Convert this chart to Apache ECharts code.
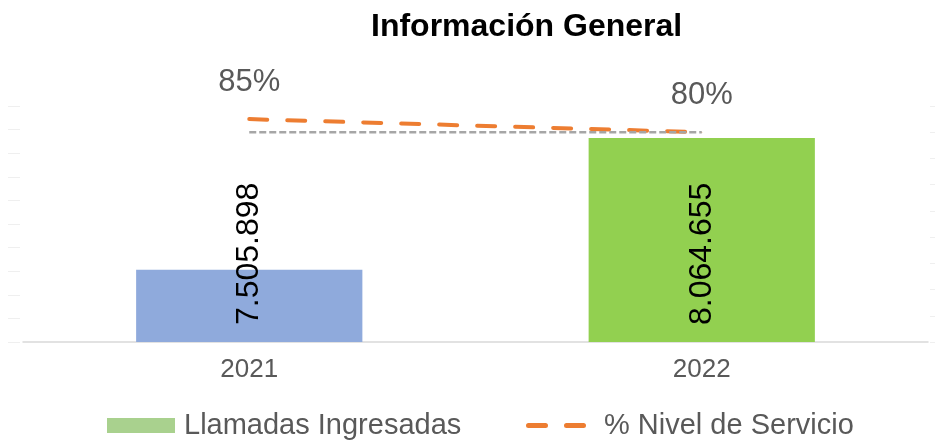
<!DOCTYPE html>
<html>
<head>
<meta charset="utf-8">
<script src="https://cdn.jsdelivr.net/npm/echarts@6/dist/echarts.min.js"></script>
<style>
  html, body { margin: 0; padding: 0; background: #fff; }
  #chart { width: 940px; height: 445px; }
</style>
</head>
<body>
<div id="chart"></div>
<script>
const years = ["2021", "2022"];
const llamadas = [7505898, 8064655];
const barColors = ["#8FAADC", "#92D050"];
const nivelServicio = [85, 80];
const meta = [80, 80];

const FONT = "'Liberation Sans', Arial, sans-serif";

function miles(v) {
  return String(v).replace(/\B(?=(\d{3})+(?!\d))/g, ".");
}

const chart = echarts.init(document.getElementById("chart"), null, { renderer: "canvas" });

chart.setOption({
  animation: false,
  textStyle: { fontFamily: FONT },
  title: {
    text: "Información General",
    left: 366,
    top: 6,
    textStyle: { fontSize: 32, fontWeight: "bold", color: "#000", fontFamily: FONT },
  },
  legend: [
    {
      data: [{ name: "Llamadas Ingresadas", icon: "rect" }],
      left: 102,
      top: 406,
      itemWidth: 68,
      itemHeight: 15,
      textStyle: { fontSize: 29, color: "#595959", fontFamily: FONT, padding: [0, 0, 0, 4] },
    },
    {
      data: [
        {
          name: "% Nivel de Servicio",
          icon: "path://M2.5,0h17a2.5,2.5 0 0 1 0,5h-17a2.5,2.5 0 0 1 0,-5zM40.5,0h17a2.5,2.5 0 0 1 0,5h-17a2.5,2.5 0 0 1 0,-5z",
          itemStyle: { color: "#ED7D31", borderWidth: 0 },
        },
      ],
      left: 521,
      top: 406,
      itemWidth: 60,
      itemHeight: 5,
      textStyle: { fontSize: 29, color: "#595959", fontFamily: FONT, padding: [0, 0, 0, 13] },
    },
  ],
  grid: { left: 23, right: 12, top: 106, bottom: 103, containLabel: false },
  xAxis: {
    type: "category",
    data: years,
    axisLine: { lineStyle: { color: "#d9d9d9", width: 1.5 } },
    axisTick: { show: false },
    axisLabel: { fontSize: 26, color: "#595959", margin: 15, fontFamily: FONT },
  },
  yAxis: [
    {
      type: "value",
      min: 7200000,
      max: 8200000,
      interval: 100000,
      offset: 3,
      axisLabel: { show: false },
      axisLine: { show: false },
      axisTick: { show: true, length: 12, lineStyle: { color: "#efefef" } },
      splitLine: { show: false },
    },
    {
      type: "value",
      min: 0,
      max: 90,
      interval: 10,
      offset: 2,
      position: "right",
      axisLabel: { show: false },
      axisLine: { show: false },
      axisTick: { show: true, length: 5, lineStyle: { color: "#efefef" } },
      splitLine: { show: false },
    },
  ],
  series: [
    {
      name: "Llamadas Ingresadas",
      type: "bar",
      barWidth: "50%",
      itemStyle: { color: "#A9D18E" },
      data: llamadas.map((v, i) => ({ value: v, itemStyle: { color: barColors[i] } })),
      label: {
        show: true,
        position: "insideBottom",
        rotate: 90,
        align: "left",
        verticalAlign: "middle",
        distance: 17,
        fontSize: 32,
        color: "#000",
        fontFamily: FONT,
        formatter: (p) => miles(p.value),
      },
    },
    {
      name: "% Nivel de Servicio",
      type: "line",
      yAxisIndex: 1,
      data: nivelServicio,
      showSymbol: true,
      symbol: "circle",
      symbolSize: 1,
      itemStyle: { color: "#ED7D31" },
      lineStyle: { color: "#ED7D31", width: 4, type: [18, 20], cap: "round" },
      label: {
        show: true,
        position: "top",
        distance: 21,
        fontSize: 31,
        color: "#595959",
        fontFamily: FONT,
        formatter: (p) => p.value + "%",
      },
      z: 3,
    },
    {
      name: "Meta",
      type: "line",
      yAxisIndex: 1,
      data: meta,
      showSymbol: false,
      symbol: "none",
      lineStyle: { color: "#A6A6A6", width: 2.5, type: [7, 3] },
      silent: true,
      z: 4,
    },
  ],
});
</script>
</body>
</html>
